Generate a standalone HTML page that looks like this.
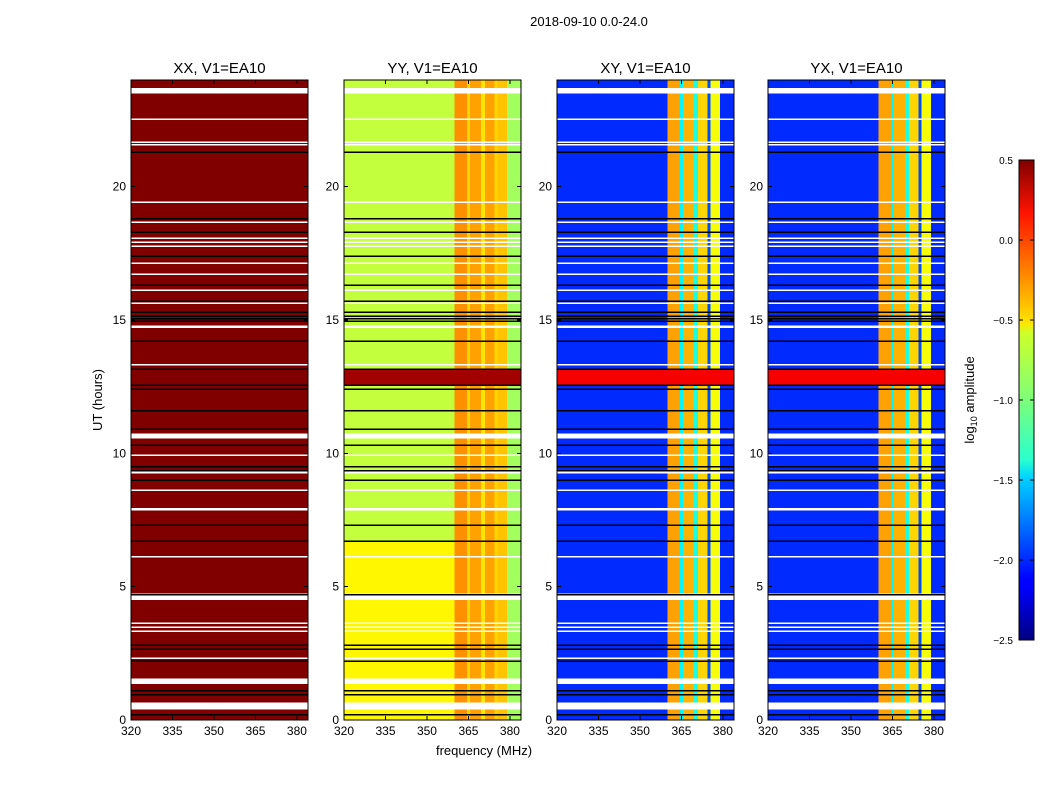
<!DOCTYPE html>
<html><head><meta charset="utf-8">
<style>
body{margin:0;background:#fff;font-family:"Liberation Sans",sans-serif;}
svg text{font-family:"Liberation Sans",sans-serif;}
</style></head>
<body>
<svg id="fig" width="1050" height="800" xmlns="http://www.w3.org/2000/svg">
<defs>
<linearGradient id="jet" x1="0" y1="1" x2="0" y2="0">
<stop offset="0" stop-color="#00007f"/><stop offset="0.11" stop-color="#0000ff"/>
<stop offset="0.125" stop-color="#0000ff"/><stop offset="0.34" stop-color="#00d4ff"/>
<stop offset="0.375" stop-color="#29ffce"/><stop offset="0.5" stop-color="#7dff7a"/>
<stop offset="0.64" stop-color="#ceff29"/><stop offset="0.66" stop-color="#ffe500"/>
<stop offset="0.89" stop-color="#ff1300"/><stop offset="1" stop-color="#7f0000"/>
</linearGradient>
</defs>
<text x="589" y="26" font-size="13" text-anchor="middle">2018-09-10 0.0-24.0</text>
<g id="panels" shape-rendering="crispEdges"></g>
<text x="484" y="755" font-size="13" text-anchor="middle">frequency (MHz)</text>
<text transform="translate(102,400) rotate(-90)" font-size="13" text-anchor="middle">UT (hours)</text>
<g>
<rect x="1019" y="160" width="15" height="480" fill="url(#jet)" stroke="#000" stroke-width="1"/>
<g id="cbticks"></g>
</g>
<text transform="translate(974,400) rotate(-90)" font-size="13" text-anchor="middle">log<tspan font-size="9" dy="3">10</tspan><tspan dy="-3"> amplitude</tspan></text>
</svg>
<script>
const panelTitles=["XX, V1=EA10","YY, V1=EA10","XY, V1=EA10","YX, V1=EA10"];
const panelLefts=[131,344,557,768];
const freqEdges=[320,360,364.5,365.5,369.5,371,374.5,375.5,379,384];
const segXX=[0.5,0.5,0.5,0.5,0.5,0.5,0.5,0.5,0.5];
const segYY=[-0.8,-0.3,-0.5,-0.35,-0.55,-0.35,-0.5,-0.45,-0.9];
const segXY=[-2.0,-0.35,-1.4,-0.4,-1.3,-0.5,-1.9,-0.65,-2.0];
const segYX=[-2.0,-0.35,-1.4,-0.4,-1.3,-0.5,-1.9,-0.65,-2.0];
const panelSegs=[segXX,segYY,segXY,segYX];
const yyLowBand=[0,6.7];const yyLowVal=-0.6;
const hotBand=[12.55,13.15];
const hotBandVals=[0.5,0.4,0.15,0.15];
const whiteRows=[[23.5,23.7],[22.5,22.55],[21.65,21.7],[21.55,21.6],[19.4,19.45],[18.65,18.7],[18.05,18.1],[17.9,17.95],[17.75,17.8],[17.1,17.15],[16.7,16.75],[16.1,16.15],[15.6,15.65],[14.7,14.8],[13.3,13.35],[10.55,10.75],[9.9,9.95],[9.25,9.35],[8.6,8.65],[7.85,7.95],[6.1,6.15],[4.5,4.75],[3.6,3.65],[3.45,3.5],[3.3,3.35],[2.3,2.35],[1.35,1.55],[0.4,0.65]];
const blackRows=[21.3,18.8,18.3,17.4,16.3,15.7,15.3,15.15,15.05,14.95,14.2,13.15,12.55,12.4,11.6,10.9,10.3,9.5,9.35,9.0,7.3,6.7,4.7,2.8,2.65,2.2,1.1,0.95,0.2];
const xTicks=[320,335,350,365,380];
const yTicks=[0,5,10,15,20];
const cbTicks=[0.5,0.0,-0.5,-1.0,-1.5,-2.0,-2.5];
const cbLabels=["0.5","0.0","\u22120.5","\u22121.0","\u22121.5","\u22122.0","\u22122.5"];

const NS="http://www.w3.org/2000/svg";
const W=177,TOP=80,BOT=720,FMIN=320,FMAX=384,TMIN=0,TMAX=24;
function jet(v){let t=(v+2.5)/3;t=Math.max(0,Math.min(1,t));
 const f=(x)=>Math.max(0,Math.min(1,x));
 const r=f(Math.min(4*t-1.5,-4*t+4.5)),g=f(Math.min(4*t-0.5,-4*t+3.5)),b=f(Math.min(4*t+0.5,-4*t+2.5));
 return `rgb(${Math.round(r*255)},${Math.round(g*255)},${Math.round(b*255)})`;}
function el(tag,attrs,parent){const e=document.createElementNS(NS,tag);for(const k in attrs)e.setAttribute(k,attrs[k]);parent.appendChild(e);return e;}
const root=document.getElementById('panels');
panelLefts.forEach((L,p)=>{
 const xs=f=>L+(f-FMIN)/(FMAX-FMIN)*W;
 const ys=t=>BOT-(t-TMIN)/(TMAX-TMIN)*(BOT-TOP);
 const g=el('g',{},root);
 
 
 const segs=panelSegs[p];
 for(let i=0;i<segs.length;i++){
  const r=el('rect',{x:xs(freqEdges[i]),y:TOP,width:xs(freqEdges[i+1])-xs(freqEdges[i])+0.5,height:BOT-TOP,fill:jet(segs[i])},g);
  
  
  if(p===1&&i===0){const r2=el('rect',{x:xs(freqEdges[i]),y:ys(yyLowBand[1]),width:xs(freqEdges[i+1])-xs(freqEdges[i]),height:ys(yyLowBand[0])-ys(yyLowBand[1]),fill:jet(yyLowVal)},g);
   
   }
 }
 const hb=el('rect',{x:L,y:ys(hotBand[1]),width:W,height:ys(hotBand[0])-ys(hotBand[1]),fill:jet(hotBandVals[p])},g);
 
 
 whiteRows.forEach(w=>{const r=el('rect',{x:L,y:ys(w[1]),width:W,height:Math.max(1.5,ys(w[0])-ys(w[1])),fill:'#fff'},g);
  
  });
 blackRows.forEach(b=>{const r=el('rect',{x:L,y:ys(b)-0.75,width:W,height:1.5,fill:'#000'},g);
  
  });
 const fr=el('rect',{x:L,y:TOP,width:W,height:BOT-TOP,fill:'none',stroke:'#000','stroke-width':1},g);
 
 
 const t=el('text',{x:L+W/2,y:TOP-7,'font-size':15,'text-anchor':'middle'},g);t.textContent=panelTitles[p];
 
 
 xTicks.forEach(v=>{el('line',{x1:xs(v),x2:xs(v),y1:BOT,y2:BOT-4,stroke:'#000'},g);el('line',{x1:xs(v),x2:xs(v),y1:TOP,y2:TOP+4,stroke:'#000'},g);
  const tx=el('text',{x:xs(v),y:BOT+15,'font-size':12,'text-anchor':'middle'},g);tx.textContent=v;
  
  });
 yTicks.forEach(v=>{el('line',{x1:L,x2:L+4,y1:ys(v),y2:ys(v),stroke:'#000'},g);el('line',{x1:L+W,x2:L+W-4,y1:ys(v),y2:ys(v),stroke:'#000'},g);
  const tx=el('text',{x:L-5,y:ys(v)+4,'font-size':12,'text-anchor':'end'},g);tx.textContent=v;
  
  });
});
const cb=document.getElementById('cbticks');
cbTicks.forEach((v,i)=>{const y=160+(0.5-v)/3*480;
 el('line',{x1:1019,x2:1023,y1:y,y2:y,stroke:'#000'},cb);el('line',{x1:1030,x2:1034,y1:y,y2:y,stroke:'#000'},cb);
 const t=el('text',{x:1013,y:y+4,'font-size':10,'text-anchor':'end'},cb);t.textContent=cbLabels[i];
 
 });
</script>
</body></html>
